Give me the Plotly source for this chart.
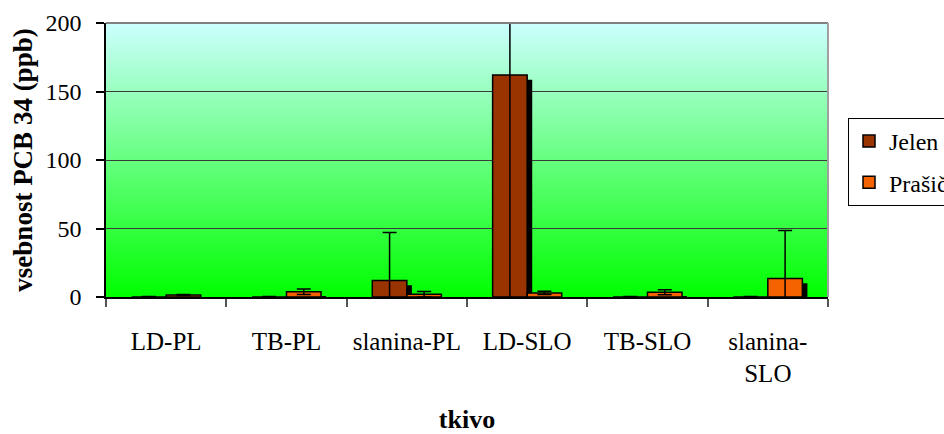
import base64
import plotly.graph_objects as go

categories = ["LD-PL", "TB-PL", "slanina-PL", "LD-SLO", "TB-SLO", "slanina-<br>SLO"]
jelen_values = [0, 0, 12, 162, 0, 0]
jelen_errors = [0.3, 0.3, 35, 170, 0.3, 0.3]
prasici_values = [1.5, 3.8, 2.0, 3.0, 3.5, 13.5]
prasici_errors = [0.4, 2.0, 2.0, 1.2, 1.8, 35]
series_names = ["Jelen", "Prašiči"]
y_ticks = [0, 50, 100, 150, 200]

FONT = "Liberation Serif, Times New Roman, serif"
BAR_W = 0.287
SHADOW_DX = 0.042
SHADOW_DY = 3.4
JELEN_COLOR = "#993300"
PRASICI_COLOR = "#F56200"

fig = go.Figure()

# shadows (drawn first, behind bars)
for vals, off in ((jelen_values, -BAR_W), (prasici_values, 0.0)):
    fig.add_trace(go.Bar(
        x=categories, y=[max(v - SHADOW_DY, 0) for v in vals],
        offset=off + SHADOW_DX, width=BAR_W,
        marker=dict(color="black", line=dict(width=0)),
        showlegend=False, hoverinfo="skip",
    ))

for name, vals, errs, col, off, grp in (
    (series_names[0], jelen_values, jelen_errors, JELEN_COLOR, -BAR_W, "a"),
    (series_names[1], prasici_values, prasici_errors, PRASICI_COLOR, 0.0, "b"),
):
    fig.add_trace(go.Bar(
        x=categories, y=vals, name=name, legendgroup=grp,
        offset=off, width=BAR_W,
        marker=dict(color=col, line=dict(color="black", width=1.5)),
        error_y=dict(type="data", array=errs, symmetric=True,
                     color="black", thickness=1.5, width=7),
    ))

svg = ('<svg xmlns="http://www.w3.org/2000/svg" width="100" height="100" preserveAspectRatio="none">'
       '<defs><linearGradient id="g" x1="0" y1="0" x2="0" y2="1">'
       '<stop offset="0" stop-color="#CCFFFF"/><stop offset="1" stop-color="#00FF00"/>'
       '</linearGradient></defs><rect width="100" height="100" fill="url(#g)"/></svg>')
uri = "data:image/svg+xml;base64," + base64.b64encode(svg.encode()).decode()

L, R, T, B = 106, 116, 23, 137
W, H = 944, 434

fig.update_layout(
    width=W, height=H,
    margin=dict(l=L, r=R, t=T, b=B, autoexpand=False),
    paper_bgcolor="white", plot_bgcolor="rgba(0,0,0,0)",
    barmode="overlay",
    font=dict(family=FONT, size=24, color="black"),
    images=[dict(source=uri, xref="paper", yref="paper", x=0, y=1,
                 sizex=1, sizey=1, xanchor="left", yanchor="top",
                 sizing="stretch", layer="below")],
    legend=dict(xref="container", yref="container", x=848 / W, y=1 - 118 / H,
                xanchor="left", yanchor="top", bgcolor="white",
                bordercolor="black", borderwidth=1,
                font=dict(family=FONT, size=24, color="black"),
                traceorder="grouped", tracegroupgap=7),
    xaxis=dict(
        type="category", tickson="boundaries", ticks="outside", ticklen=8,
        tickcolor="#555555", tickwidth=1.5, showgrid=False,
        showline=True, linecolor="black", linewidth=1.5,
        tickfont=dict(family=FONT, size=25), automargin=False,
        range=[-0.5, 5.5], ticklabelstandoff=21,
        title=dict(text="<b>tkivo</b>", font=dict(family=FONT, size=26), standoff=32),
    ),
    yaxis=dict(
        range=[0, 200], tickvals=y_ticks, ticks="outside", ticklen=8,
        tickcolor="black", tickwidth=1.5,
        showgrid=True, gridcolor="#3a3a3a", gridwidth=1,
        showline=True, linecolor="black", linewidth=1.5, zeroline=False,
        tickfont=dict(family=FONT, size=24), automargin=False,
        ticklabelstandoff=10,
        title=dict(text="<b>vsebnost PCB 34 (ppb)</b>", font=dict(family=FONT, size=27), standoff=5),
    ),
    shapes=[
        dict(type="line", xref="paper", yref="paper", x0=0, x1=1, y0=1, y1=1,
             line=dict(color="#808080", width=2)),
        dict(type="line", xref="paper", yref="paper", x0=1, x1=1, y0=0, y1=1,
             line=dict(color="#A0A0A0", width=2)),
    ],
)

fig.write_html("out.html")
